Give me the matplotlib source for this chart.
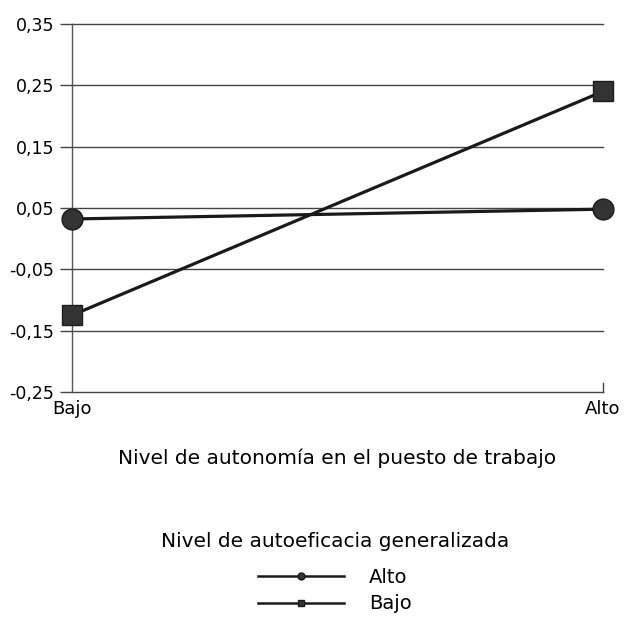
import matplotlib.pyplot as plt
from matplotlib.ticker import FuncFormatter

plt.rcParams['font.family'] = ['DejaVu Sans']

# data
autonomia = ['Bajo', 'Alto']
autoeficacia_alto = [0.032, 0.048]
autoeficacia_bajo = [-0.125, 0.240]
y_ticks = [-0.25, -0.15, -0.05, 0.05, 0.15, 0.25, 0.35]

fig = plt.figure(figsize=(6.26, 6.24), dpi=100)
ax = fig.add_axes([0.115, 0.372, 0.848, 0.5895])

x = list(range(len(autonomia)))
ax.plot(x, autoeficacia_alto, color='#1a1a1a', lw=2.3, marker='o', ms=15,
        mfc='#333333', mec='#1a1a1a', label='Alto', zorder=3, clip_on=False)
ax.plot(x, autoeficacia_bajo, color='#1a1a1a', lw=2.3, marker='s', ms=15,
        mfc='#333333', mec='#1a1a1a', label='Bajo', zorder=3, clip_on=False)

ax.set_xlim(0, 1)
ax.set_ylim(-0.25, 0.35)
ax.set_yticks(y_ticks)
ax.yaxis.set_major_formatter(FuncFormatter(lambda v, p: f"{v:.2f}".replace('.', ',')))
ax.set_xticks(x)
ax.set_xticklabels(autonomia)

for yv in y_ticks:
    ax.axhline(yv, color='#444444', lw=1.0, zorder=1, clip_on=False)
# small upward tick at the right end of the baseline
ax.axvline(1, ymin=0, ymax=0.025, color='#444444', lw=1.0, clip_on=False)

for s in ['top', 'right', 'bottom']:
    ax.spines[s].set_visible(False)
ax.spines['left'].set_color('#555555')
ax.spines['left'].set_linewidth(1.0)

ax.tick_params(axis='y', length=9, width=1, color='#444444', labelsize=12.5, pad=4)
ax.tick_params(axis='x', length=0, labelsize=13, pad=6)

ax.set_xlabel('Nivel de autonomía en el puesto de trabajo', fontsize=14.5, labelpad=22)

leg = fig.legend(loc='upper center', bbox_to_anchor=(0.535, 0.175), frameon=False,
                 title='Nivel de autoeficacia generalizada', title_fontsize=14.5,
                 fontsize=14, handlelength=4.4, handletextpad=1.3, labelspacing=0.38)
for h in leg.legend_handles:
    h.set_markersize(5)
    h.set_linewidth(1.8)
leg._legend_box.sep = 12

fig.savefig('out.png', dpi=100)
